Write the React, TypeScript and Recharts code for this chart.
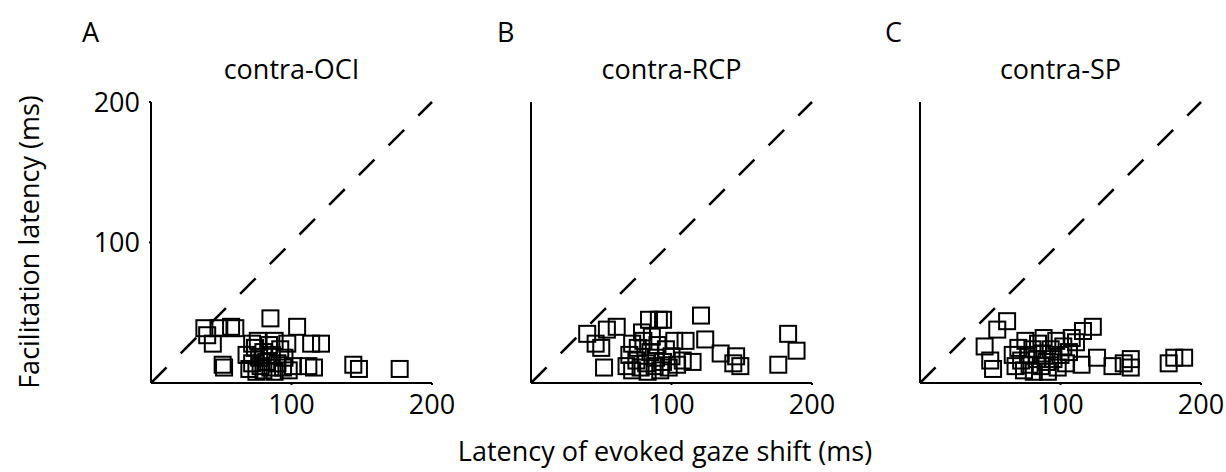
import { ScatterChart, Scatter, XAxis, YAxis, ReferenceLine } from "recharts";

// panel A: contra-OCI
const ociX = [85, 38, 48, 60, 104, 40, 44, 51, 52, 74, 114, 121, 116, 112, 144, 148, 177, 101, 57,
  70, 72, 75, 77, 78, 80, 80, 82, 84, 85, 86, 88, 88, 90, 92, 94, 95, 97, 98, 72, 76, 68];
const ociY = [46, 39, 39, 39, 40, 34, 28, 13, 11, 25, 28, 28, 11, 12, 13, 10, 10, 12, 40,
  10, 14, 8, 18, 12, 22, 9, 15, 27, 11, 20, 8, 30, 14, 24, 11, 18, 28, 9, 28, 30, 20];

// panel B: contra-RCP
const rcpX = [40, 46, 50, 52, 54, 61, 72, 84, 91, 94, 79, 121, 110, 115, 124, 135, 146, 144, 149, 183, 189, 176,
  68, 70, 72, 75, 76, 78, 80, 82, 83, 85, 86, 88, 89, 90, 92, 94, 96, 98, 100, 102, 104, 108];
const rcpY = [35, 28, 25, 11, 38, 40, 28, 45, 45, 45, 36, 48, 30, 15, 31, 21, 19, 14, 12, 35, 23, 13,
  12, 20, 9, 16, 25, 11, 30, 14, 8, 22, 33, 12, 18, 27, 9, 15, 24, 11, 19, 30, 13, 16];

// panel C: contra-SP
const spX = [46, 55, 62, 50, 52, 116, 123, 111, 115, 126, 137, 145, 150, 150, 177, 181, 188,
  66, 68, 70, 72, 74, 75, 77, 78, 80, 81, 83, 84, 86, 87, 88, 90, 91, 93, 95, 97, 98, 100, 102, 104, 106, 108];
const spY = [26, 38, 44, 16, 10, 37, 40, 29, 13, 18, 12, 14, 17, 11, 14, 18, 18,
  20, 12, 25, 16, 9, 30, 20, 13, 24, 8, 17, 28, 12, 21, 32, 15, 8, 24, 17, 30, 11, 20, 26, 14, 22, 32];

const axisTicks = [100, 200];
const FONT = "'Open Sans', sans-serif";
const FS = 27;

const toPoints = (xs: number[], ys: number[]) => xs.map((x, i) => ({ x, y: ys[i] }));

const Square = (props: any) => {
  const { cx, cy } = props;
  return <rect x={cx - 8} y={cy - 8} width={16} height={16} fill="none" stroke="#000" strokeWidth={2} />;
};

const panels = [
  { letter: "A", title: "contra-OCI", x0: 151, letterX: 82, data: toPoints(ociX, ociY), yLabels: true },
  { letter: "B", title: "contra-RCP", x0: 531, letterX: 497, data: toPoints(rcpX, rcpY), yLabels: false },
  { letter: "C", title: "contra-SP", x0: 920, letterX: 885, data: toPoints(spX, spY), yLabels: false },
];

function Panel(props: { title: string; letter: string; letterX: number; x0: number; data: { x: number; y: number }[]; yLabels: boolean }) {
  const yw = 70;
  return (
    <>
      <div style={{ position: "absolute", left: props.letterX, top: 13, fontSize: FS, fontFamily: FONT }}>{props.letter}</div>
      <div style={{ position: "absolute", left: props.x0, width: 281, top: 50, textAlign: "center", fontSize: FS, fontFamily: FONT }}>
        {props.title}
      </div>
      <div style={{ position: "absolute", left: props.x0 - yw, top: 80 }}>
        <ScatterChart width={yw + 281 + 25} height={350} margin={{ top: 22, right: 25, bottom: 0, left: 0 }}>
          <XAxis
            type="number"
            dataKey="x"
            domain={[0, 200]}
            ticks={axisTicks}
            height={47}
            axisLine={{ stroke: "#000", strokeWidth: 2 }}
            tickLine={{ stroke: "#000", strokeWidth: 2 }}
            tickSize={2}
            tickMargin={10}
            tick={{ fill: "#000", fontSize: FS, fontFamily: FONT }}
          />
          <YAxis
            type="number"
            dataKey="y"
            domain={[0, 200]}
            ticks={axisTicks}
            width={yw}
            axisLine={{ stroke: "#000", strokeWidth: 2 }}
            tickLine={props.yLabels ? { stroke: "#000", strokeWidth: 2 } : false}
            tickSize={2}
            tickMargin={9}
            tick={props.yLabels ? { fill: "#000", fontSize: FS, fontFamily: FONT } : false}
          />
          <ReferenceLine
            segment={[{ x: 0, y: 0 }, { x: 200, y: 200 }]}
            stroke="#000"
            strokeWidth={2.5}
            strokeDasharray="22 20"
          />
          <Scatter data={props.data} shape={Square} isAnimationActive={false} />
        </ScatterChart>
      </div>
    </>
  );
}

export default function App() {
  return (
    <div style={{ position: "fixed", left: 0, top: 0, width: 1226, height: 472, background: "#fff", overflow: "hidden" }}>
      {panels.map((p) => (
        <Panel key={p.letter} {...p} />
      ))}
      <div
        style={{
          position: "absolute",
          left: 28,
          top: 242,
          transform: "translate(-50%, -50%) rotate(-90deg)",
          whiteSpace: "nowrap",
          fontSize: FS,
          fontFamily: FONT,
        }}
      >
        Facilitation latency (ms)
      </div>
      <div style={{ position: "absolute", left: 0, width: 1330, top: 432, textAlign: "center", fontSize: FS, fontFamily: FONT }}>
        Latency of evoked gaze shift (ms)
      </div>
    </div>
  );
}
